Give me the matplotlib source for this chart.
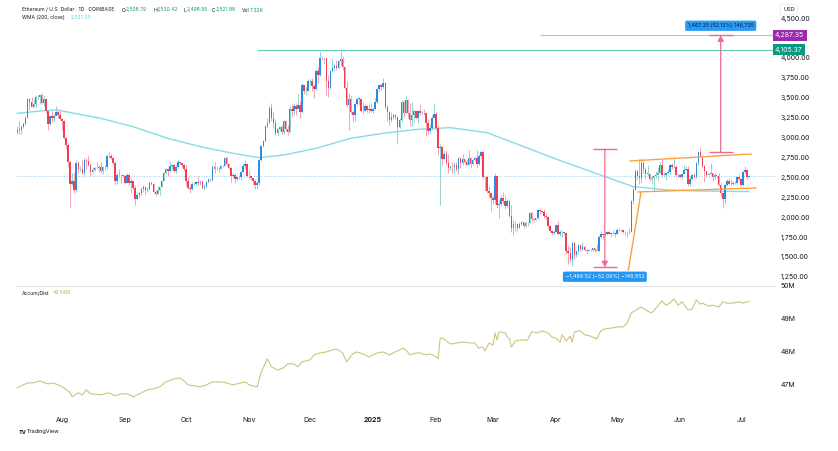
import numpy as np
import pandas as pd
import matplotlib
matplotlib.use("Agg")
import matplotlib.pyplot as plt
from matplotlib.transforms import blended_transform_factory

plt.rcParams['font.family'] = ['Inter', 'DejaVu Sans']

# ---- data (ETH/USD daily, Coinbase) ----
start_date = "2024-07-10"
first_open = 3065.0
last_open = 2508.79

close = [
    # Jul 10-31 2024
    3100, 3100, 3135, 3175, 3245, 3485, 3445, 3390, 3425, 3505, 3515, 3535, 3440, 3480, 3335, 3175, 3275, 3250, 3270, 3320, 3280, 3230,
    # Aug
    3205, 2990, 2905, 2690, 2420, 2460, 2340, 2680, 2600, 2610, 2555, 2720, 2700, 2660, 2570, 2590, 2615, 2615, 2635, 2575, 2630, 2625, 2765, 2770, 2745, 2680, 2455, 2525, 2530, 2525, 2515,
    # Sep
    2430, 2535, 2425, 2450, 2370, 2225, 2275, 2300, 2360, 2385, 2345, 2360, 2435, 2415, 2315, 2295, 2340, 2375, 2460, 2560, 2610, 2580, 2645, 2650, 2580, 2630, 2695, 2680, 2660, 2605,
    # Oct
    2450, 2365, 2350, 2415, 2415, 2440, 2425, 2440, 2370, 2385, 2440, 2475, 2465, 2630, 2605, 2610, 2605, 2645, 2645, 2745, 2665, 2620, 2520, 2535, 2475, 2505, 2505, 2570, 2640, 2670, 2520,
    # Nov
    2515, 2490, 2455, 2400, 2425, 2720, 2895, 2960, 3140, 3185, 3370, 3245, 3185, 3060, 3110, 3135, 3075, 3210, 3105, 3070, 3355, 3330, 3395, 3360, 3410, 3325, 3655, 3580, 3590, 3705,
    # Dec
    3710, 3645, 3615, 3835, 3790, 4000, 3995, 4005, 3715, 3625, 3835, 3880, 3905, 3875, 3960, 3985, 3885, 3625, 3415, 3480, 3325, 3280, 3420, 3490, 3490, 3330, 3335, 3395, 3350, 3355, 3335,
    # Jan 2025
    3355, 3450, 3610, 3655, 3635, 3685, 3380, 3325, 3220, 3265, 3280, 3265, 3135, 3225, 3450, 3310, 3475, 3305, 3215, 3280, 3330, 3240, 3335, 3310, 3315, 3310, 3180, 3080, 3115, 3245, 3300,
    # Feb
    3120, 2870, 2880, 2730, 2790, 2680, 2620, 2635, 2630, 2660, 2605, 2740, 2675, 2725, 2690, 2660, 2745, 2670, 2715, 2740, 2665, 2765, 2815, 2500, 2500, 2330, 2305, 2240,
    # Mar
    2215, 2520, 2150, 2170, 2240, 2200, 2140, 2205, 2020, 1865, 1920, 1910, 1865, 1910, 1935, 1890, 1925, 1930, 2055, 1980, 1965, 1985, 2085, 2080, 2070, 2010, 2000, 1895, 1830, 1805, 1820,
    # Apr
    1905, 1795, 1815, 1815, 1805, 1580, 1555, 1475, 1670, 1525, 1570, 1645, 1595, 1625, 1590, 1580, 1585, 1590, 1615, 1585, 1580, 1755, 1795, 1770, 1790, 1815, 1795, 1800, 1800, 1795,
    # May
    1840, 1840, 1835, 1810, 1815, 1810, 1815, 2205, 2345, 2580, 2515, 2495, 2680, 2610, 2545, 2545, 2485, 2495, 2520, 2525, 2550, 2660, 2525, 2530, 2550, 2565, 2660, 2630, 2630, 2530, 2530,
    # Jun
    2510, 2540, 2590, 2610, 2420, 2480, 2525, 2510, 2680, 2815, 2770, 2645, 2580, 2530, 2545, 2550, 2510, 2525, 2520, 2405, 2300, 2225, 2410, 2450, 2420, 2415, 2425, 2435, 2500, 2485,
    # Jul 1-5
    2405, 2570, 2590, 2505, 2521.88,
]

high = [
    3150, 3210, 3160, 3200, 3270, 3500, 3500, 3515, 3490, 3540, 3540, 3550, 3560, 3540, 3490, 3340, 3290, 3330, 3285, 3400, 3350, 3350,
    3250, 3220, 3010, 2930, 2700, 2555, 2555, 2720, 2700, 2640, 2720, 2740, 2740, 2785, 2680, 2630, 2630, 2690, 2650, 2690, 2640, 2650, 2790, 2820, 2790, 2760, 2700, 2560, 2600, 2545, 2535,
    2525, 2555, 2550, 2490, 2460, 2410, 2310, 2320, 2380, 2400, 2390, 2380, 2460, 2440, 2430, 2340, 2390, 2385, 2470, 2570, 2620, 2615, 2700, 2670, 2670, 2660, 2730, 2700, 2680, 2665,
    2660, 2500, 2400, 2440, 2440, 2460, 2520, 2470, 2465, 2420, 2450, 2480, 2485, 2650, 2690, 2640, 2630, 2650, 2660, 2760, 2770, 2680, 2630, 2560, 2560, 2510, 2530, 2575, 2680, 2720, 2670,
    2590, 2520, 2490, 2480, 2450, 2730, 2910, 2970, 3160, 3250, 3400, 3440, 3330, 3230, 3120, 3150, 3160, 3220, 3220, 3160, 3400, 3420, 3440, 3430, 3550, 3460, 3680, 3660, 3630, 3730,
    3740, 3750, 3660, 3860, 3890, 4090, 4020, 4015, 4005, 3790, 3850, 3995, 3935, 3970, 3970, 4107, 4030, 3900, 3710, 3560, 3520, 3340, 3435, 3500, 3505, 3495, 3450, 3420, 3410, 3420, 3430,
    3370, 3500, 3620, 3670, 3670, 3745, 3700, 3410, 3330, 3320, 3300, 3300, 3270, 3250, 3470, 3470, 3520, 3490, 3440, 3450, 3360, 3350, 3350, 3420, 3350, 3360, 3250, 3230, 3170, 3280, 3440,
    3330, 3160, 2920, 2890, 2830, 2850, 2800, 2660, 2690, 2690, 2690, 2760, 2750, 2790, 2730, 2720, 2840, 2760, 2730, 2770, 2850, 2790, 2850, 2830, 2520, 2530, 2390, 2310,
    2280, 2550, 2525, 2210, 2280, 2320, 2280, 2225, 2210, 2150, 1960, 1950, 1925, 1945, 1950, 1940, 1955, 1940, 2070, 2070, 1990, 1995, 2090, 2100, 2080, 2100, 2040, 2010, 1905, 1835, 1845,
    1920, 1955, 1835, 1835, 1820, 1815, 1640, 1620, 1690, 1670, 1580, 1660, 1650, 1690, 1645, 1600, 1605, 1600, 1615, 1615, 1660, 1780, 1830, 1795, 1810, 1825, 1830, 1820, 1835, 1810,
    1870, 1860, 1850, 1845, 1830, 1825, 1860, 2210, 2385, 2610, 2590, 2730, 2740, 2710, 2620, 2650, 2560, 2530, 2535, 2580, 2630, 2690, 2730, 2570, 2560, 2610, 2670, 2680, 2760, 2650, 2550,
    2540, 2550, 2650, 2640, 2640, 2520, 2540, 2540, 2690, 2830, 2880, 2780, 2650, 2590, 2560, 2680, 2560, 2560, 2530, 2550, 2430, 2310, 2420, 2480, 2490, 2480, 2450, 2450, 2520, 2530,
    2490, 2590, 2640, 2600, 2530.42,
]

low = [
    3040, 3050, 3050, 3120, 3160, 3240, 3350, 3380, 3380, 3380, 3480, 3420, 3420, 3400, 3310, 3090, 3160, 3200, 3190, 3290, 3240, 3215,
    3100, 2980, 2860, 2630, 2110, 2410, 2310, 2320, 2560, 2580, 2545, 2510, 2610, 2640, 2520, 2550, 2585, 2600, 2570, 2560, 2540, 2590, 2610, 2740, 2730, 2670, 2420, 2420, 2510, 2430, 2500,
    2420, 2430, 2410, 2310, 2350, 2150, 2220, 2240, 2270, 2320, 2280, 2320, 2340, 2400, 2300, 2260, 2280, 2280, 2375, 2450, 2540, 2520, 2570, 2610, 2570, 2555, 2620, 2650, 2630, 2585,
    2410, 2350, 2310, 2340, 2400, 2405, 2410, 2400, 2350, 2340, 2380, 2430, 2440, 2460, 2550, 2590, 2570, 2600, 2630, 2640, 2640, 2600, 2440, 2505, 2430, 2460, 2480, 2470, 2560, 2610, 2500,
    2485, 2470, 2400, 2360, 2350, 2410, 2710, 2880, 2950, 3120, 3180, 3210, 3120, 3030, 3015, 3080, 3040, 3050, 3080, 3030, 3060, 3260, 3290, 3280, 3390, 3250, 3310, 3550, 3540, 3580,
    3660, 3590, 3500, 3600, 3680, 3780, 3970, 3930, 3530, 3510, 3610, 3820, 3840, 3850, 3860, 3900, 3850, 3610, 3400, 3100, 3300, 3200, 3210, 3400, 3410, 3320, 3300, 3330, 3325, 3310, 3320,
    3315, 3345, 3440, 3590, 3600, 3620, 3360, 3210, 3160, 3190, 3230, 3230, 2920, 3120, 3200, 3260, 3300, 3240, 3150, 3140, 3200, 3230, 3180, 3280, 3300, 3280, 3020, 3050, 3050, 3100, 3260,
    3100, 2780, 2150, 2660, 2720, 2650, 2560, 2590, 2550, 2560, 2580, 2540, 2620, 2660, 2670, 2650, 2660, 2620, 2650, 2700, 2620, 2650, 2740, 2480, 2330, 2300, 2250, 2080,
    2170, 2170, 2110, 1990, 2140, 2160, 2100, 2130, 2000, 1810, 1760, 1830, 1830, 1860, 1900, 1860, 1880, 1885, 1925, 1955, 1945, 1960, 1980, 2040, 2050, 1990, 1980, 1865, 1820, 1775, 1795,
    1820, 1780, 1760, 1750, 1780, 1540, 1410, 1450, 1385, 1475, 1505, 1540, 1570, 1590, 1580, 1540, 1570, 1575, 1580, 1565, 1570, 1570, 1740, 1730, 1760, 1780, 1790, 1745, 1780, 1750,
    1790, 1825, 1825, 1800, 1780, 1750, 1790, 1810, 2170, 2340, 2470, 2420, 2430, 2560, 2480, 2520, 2460, 2420, 2330, 2490, 2470, 2550, 2510, 2510, 2470, 2540, 2530, 2600, 2620, 2510, 2490,
    2490, 2475, 2540, 2590, 2390, 2390, 2470, 2490, 2490, 2660, 2760, 2620, 2440, 2500, 2500, 2530, 2460, 2480, 2490, 2390, 2260, 2110, 2170, 2390, 2410, 2410, 2400, 2415, 2420, 2470,
    2375, 2390, 2560, 2480, 2498.95,
]

# WMA(200): (day index, value)
wma_idx = [0, 13, 20, 24, 41, 57, 74, 90, 106, 119, 131, 147, 164, 180, 197, 213, 231, 247, 264, 280, 289, 303, 320, 336, 360]
wma_val = [3305, 3338, 3347, 3325, 3242, 3137, 2991, 2886, 2803, 2748, 2781, 2865, 2991, 3054, 3104, 3125, 3062, 2907, 2740, 2593, 2510, 2384, 2342, 2329, 2321.33]

# Accumulation/Distribution (millions)
ad_idx = [0, 5, 8, 11, 15, 18, 21, 23, 26, 27, 30, 32, 34, 36, 41, 45, 48, 51, 54, 57, 60, 64, 67, 70, 73, 77, 80, 82, 84, 87, 90, 93, 96, 100,
          103, 106, 110, 112, 114, 118, 120, 123, 125, 128, 131, 133, 136, 138, 140, 144, 146, 149, 152, 155, 157, 160, 162, 165, 167, 170, 173, 177,
          180, 183, 188, 190, 192, 193, 196, 198, 201, 203, 206, 207, 208, 210, 213, 216, 219, 223, 225, 227, 229, 230, 232, 234, 235, 236, 237, 240,
          241, 242, 243, 245, 247, 251, 253, 256, 258, 261, 263, 265, 267, 268, 270, 272, 273, 274, 277, 279, 282, 285, 287, 289, 293, 295, 298, 300,
          302, 305, 307, 310, 312, 315, 317, 319, 321, 323, 325, 327, 330, 332, 334, 336, 337, 340, 342, 345, 347, 349, 352, 355, 357, 360]
ad_val = [46.91, 47.06, 47.06, 47.12, 47.03, 47.06, 46.97, 46.91, 46.76, 46.64, 46.76, 46.70, 46.85, 46.73, 46.70, 46.76, 46.67, 46.73, 46.73, 46.64,
          46.73, 46.85, 46.88, 46.94, 47.09, 47.18, 47.21, 47.12, 47.00, 46.97, 46.94, 47.00, 47.09, 47.09, 47.06, 47.00, 47.06, 47.09, 47.00, 46.94,
          47.39, 47.79, 47.55, 47.45, 47.52, 47.64, 47.64, 47.55, 47.70, 47.76, 47.91, 47.97, 48.00, 48.06, 48.09, 47.97, 47.70, 47.94, 48.00, 47.94,
          47.85, 47.97, 48.00, 47.91, 48.06, 48.12, 48.00, 47.91, 47.97, 47.97, 47.91, 47.94, 47.85, 47.79, 48.42, 48.39, 48.24, 48.27, 48.30, 48.27,
          48.27, 48.12, 48.15, 48.03, 48.27, 48.21, 48.58, 48.36, 48.61, 48.58, 48.45, 48.42, 48.15, 48.33, 48.36, 48.36, 48.61, 48.58, 48.64, 48.58,
          48.45, 48.42, 48.30, 48.52, 48.33, 48.48, 48.30, 48.61, 48.64, 48.52, 48.48, 48.39, 48.64, 48.70, 48.73, 48.76, 48.76, 48.88, 49.18, 49.30,
          49.36, 49.24, 49.18, 49.39, 49.55, 49.42, 49.48, 49.61, 49.42, 49.52, 49.27, 49.30, 49.58, 49.45, 49.48, 49.39, 49.42, 49.36, 49.52, 49.48,
          49.48, 49.52, 49.48, 49.54]

# drawings
ath_level = 4105.37
target_level = 4287.35
ath_from = 118
target_from = 257
drop_x, drop_top, drop_bottom = 289, 2857.05, 1368.53
rise_x, rise_bottom, rise_top = 346, 2820.10, 4287.35
chan_upper = [(301.4, 2706), (360.9, 2794)]
chan_lower = [(305.3, 2317), (363.3, 2367)]
chan_leg = [(300.6, 1337), (306.8, 2317)]
drop_text = "\u22121,488.52 (\u221252.09%) \u2212148,852"
rise_text = "1,467.25 (52.12%) 146,725"

# ---- figure ----
W, H = 838, 451
fig = plt.figure(figsize=(W / 100, H / 100), dpi=100, facecolor="white")

def rect(x0, y0, x1, y1):
    return [x0 / W, 1 - y1 / H, (x1 - x0) / W, (y1 - y0) / H]

ax = fig.add_axes(rect(16, 3, 775, 285))
ax2 = fig.add_axes(rect(16, 286, 775, 406), sharex=ax)

close = np.array(close, dtype=float)
high = np.array(high, dtype=float)
low = np.array(low, dtype=float)
opens = np.r_[first_open, close[:-1]]
opens[-1] = last_open
x = np.arange(len(close))
dates = pd.date_range(start_date, periods=len(close), freq="D")

up = close >= opens
up_body, dn_body = "#2a8be6", "#f23d52"
up_wick, dn_wick = "#8fd3cf", "#f7a3b3"

ax.vlines(x[up], low[up], high[up], color=up_wick, lw=0.7, zorder=2)
ax.vlines(x[~up], low[~up], high[~up], color=dn_wick, lw=0.7, zorder=2)
body_h = np.maximum(np.abs(close - opens), 4)
body_b = np.minimum(close, opens)
ax.bar(x[up], body_h[up], bottom=body_b[up], width=0.75, color=up_body, lw=0, zorder=3)
ax.bar(x[~up], body_h[~up], bottom=body_b[~up], width=0.75, color=dn_body, lw=0, zorder=3)

ax.plot(wma_idx, wma_val, color="#86dbe6", lw=1.0, zorder=1)
ax.axhline(close[-1], color="#7ab8f2", lw=0.6, ls=(0, (1, 2)), zorder=1)

xmax = 372.7
ax.hlines(ath_level, ath_from, xmax, color="#66cdb6", lw=0.8, zorder=1)
ax.hlines(target_level, target_from, xmax, color="#e0a6e6", lw=0.8, zorder=1)

orange = "#f7a440"
for seg in (chan_upper, chan_lower, chan_leg):
    ax.plot([seg[0][0], seg[1][0]], [seg[0][1], seg[1][1]], color=orange, lw=1.0, zorder=4)

pink = "#f06a8f"
for xc, y0, y1 in ((drop_x, drop_top, drop_bottom), (rise_x, rise_bottom, rise_top)):
    ax.annotate("", xy=(xc, y1), xytext=(xc, y0),
                arrowprops=dict(arrowstyle="-|>,head_length=0.35,head_width=0.18", color=pink, lw=0.9,
                                shrinkA=0, shrinkB=0), zorder=5)
    ax.hlines([y0, y1], xc - 6, xc + 6, color=pink, lw=1.0, zorder=5)

ax.text(drop_x, 1252, drop_text, ha="center", va="center", fontsize=3.8, color="white", zorder=6,
        bbox=dict(boxstyle="round,pad=0.5,rounding_size=0.3", fc="#2196f3", ec="none"))
ax.text(rise_x, 4405, rise_text, ha="center", va="center", fontsize=3.8, color="#0d1b33", zorder=6,
        bbox=dict(boxstyle="round,pad=0.5,rounding_size=0.3", fc="#2b9af3", ec="none"))

ax.set_xlim(-0.64, xmax)
ax.set_ylim(1148, 4691)
ax2.set_ylim(46.36, 50.0)

# 4,250 sits under the level labels on the price scale
price_ticks = [v for v in np.arange(1250, 4501, 250) if v != 4250]
ax.set_yticks(price_ticks)
ax.set_yticklabels([f"{v:,.2f}" for v in price_ticks])
ax.yaxis.tick_right()
ax.tick_params(axis="y", length=0, pad=4, labelsize=5, labelcolor="#131722")
ax.tick_params(axis="x", length=0, labelbottom=False)

ax2.plot(ad_idx, ad_val, color="#cfc47c", lw=0.8)
ax2.set_yticks([47, 48, 49, 50])
ax2.set_yticklabels(["47M", "48M", "49M", "50M"])
ax2.yaxis.tick_right()
ax2.tick_params(axis="y", length=0, pad=4, labelsize=5, labelcolor="#131722")

month_pos = [i for i, d in enumerate(dates) if d.day == 1]
month_lab = [str(d.year) if d.month == 1 else d.strftime("%b") for d in dates[month_pos]]
ax2.set_xticks(month_pos)
ax2.set_xticklabels(month_lab)
ax2.tick_params(axis="x", length=0, pad=8, labelsize=5, labelcolor="#131722")
for t in ax2.get_xticklabels():
    if t.get_text().isdigit():
        t.set_fontweight("bold")

for a in (ax, ax2):
    a.set_facecolor("white")
    for s in a.spines.values():
        s.set_visible(False)
ax2.spines["top"].set_visible(True)
ax2.spines["top"].set_color("#e0e3eb")
ax2.spines["top"].set_linewidth(0.8)

# price scale labels for the horizontal levels
tr = blended_transform_factory(ax.transAxes, ax.transData)
ax.text(1.0, target_level, f"{target_level:,.2f}", transform=tr, ha="left", va="center", fontsize=5,
        color="white", clip_on=False, bbox=dict(boxstyle="square,pad=0.35", fc="#9c27b0", ec="none"))
ax.text(1.0, ath_level, f"{ath_level:,.2f}", transform=tr, ha="left", va="center", fontsize=5,
        color="white", clip_on=False, bbox=dict(boxstyle="square,pad=0.35", fc="#089981", ec="none"))

def ftxt(px, py, s, **kw):
    fig.text(px / W, 1 - py / H, s, va="center", ha="left", **kw)

ftxt(783, 9.5, "USD", fontsize=4, color="#131722",
     bbox=dict(boxstyle="round,pad=0.5,rounding_size=0.2", fc="white", ec="#e0e3eb", lw=0.5))

dark, green = "#131722", "#089981"
ftxt(22, 10, "Ethereum / U.S. Dollar \u00b7 1D \u00b7 COINBASE", fontsize=3.6, color=dark)
for px, lab, val in ((122, "O", "2,508.79"), (153, "H", "2,530.42"), (183, "L", "2,498.95"),
                     (212, "C", "2,521.88"), (242, "Vol", "7.32K")):
    ftxt(px, 10, lab, fontsize=3.6, color=dark)
    off = 3.5 if lab != "Vol" else 8
    ftxt(px + off, 10, val, fontsize=3.6, color=green)
ftxt(22, 17.5, "WMA (200, close)", fontsize=3.6, color=dark)
ftxt(71, 17.5, "2,321.33", fontsize=3.6, color="#5ccfe0")

ftxt(22, 293, "Accum/Dist", fontsize=3.6, color=dark)
ftxt(53, 293, "49.54M", fontsize=3.6, color="#b8ad4f")

ftxt(19, 432, "TV", fontsize=4, color=dark, fontweight="bold")
ftxt(27, 432, "TradingView", fontsize=4, color=dark)

fig.savefig("out.png", dpi=100, facecolor="white")
